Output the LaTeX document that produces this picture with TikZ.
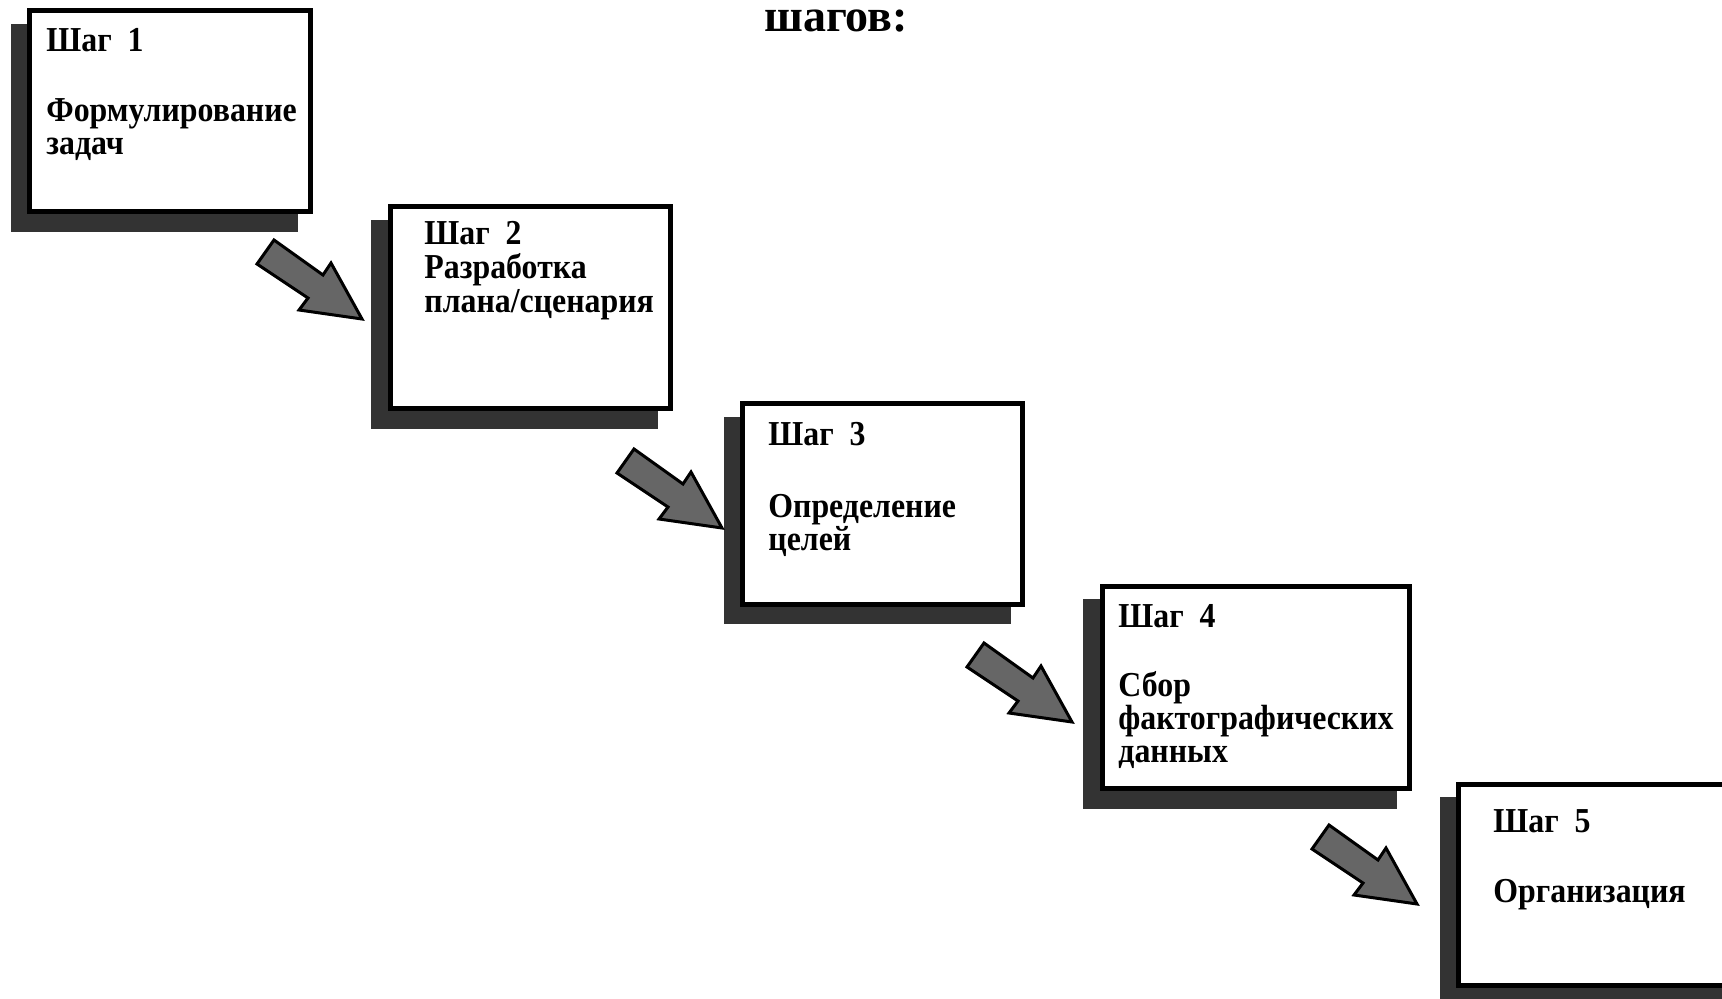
\documentclass[tikz,border=0pt]{standalone}
\usepackage{fontspec}
\setmainfont{Liberation Serif}
\newfontfamily\boxfont[FakeStretch=0.91]{Liberation Serif}
\newfontfamily\titlefont{Liberation Serif}
\usetikzlibrary{fit}
\definecolor{shadowgray}{HTML}{333333}
\definecolor{arrowgray}{HTML}{666666}
\tikzset{
  stepbox/.style={draw=black, line width=2.5pt, fill=white, inner sep=0pt},
  shadowfill/.style={fill=shadowgray},
  lbl/.style={anchor=base west, inner sep=0pt, font=\boxfont\fontsize{17.5pt}{20pt}\selectfont\bfseries},
  ttl/.style={anchor=base, inner sep=0pt, font=\titlefont\fontsize{23pt}{27pt}\selectfont\bfseries},
  blockarrow/.style={fill=arrowgray, draw=black, line width=1.5pt, line join=miter},
}
\begin{document}
\begin{tikzpicture}[x=0.5pt,y=-0.5pt]
\clip (0,0) rectangle (1722,999);
\useasboundingbox (0,0) rectangle (1722,999);
% title (last line)
\node[ttl] (title) at (836,32) {шагов:};
% shadows
\fill[shadowfill] (11,24) rectangle (298,232);
\fill[shadowfill] (371,220) rectangle (658,429);
\fill[shadowfill] (724,417) rectangle (1011,624);
\fill[shadowfill] (1083,599) rectangle (1397,809);
\fill[shadowfill] (1440,797) rectangle (1800,1020);
% boxes
\node[stepbox, fit={(29.5,10.5) (310.5,211.5)}] (s1) {};
\node[stepbox, fit={(390.5,206.5) (670.5,408.5)}] (s2) {};
\node[stepbox, fit={(742.5,403.5) (1022.5,604.5)}] (s3) {};
\node[stepbox, fit={(1102.5,586.5) (1409.5,788.5)}] (s4) {};
\node[stepbox, fit={(1458.5,784.5) (1790,985.5)}] (s5) {};
% texts
\node[lbl] (s1a) at (46,52) {Шаг\ \ 1};
\node[lbl] (s1b) at (46,122) {Формулирование};
\node[lbl] (s1c) at (46,155) {задач};
\node[lbl] (s2a) at (424,245) {Шаг\ \ 2};
\node[lbl] (s2b) at (424,279) {Разработка};
\node[lbl] (s2c) at (424,313) {плана/сценария};
\node[lbl] (s3a) at (768,446) {Шаг\ \ 3};
\node[lbl] (s3b) at (768,517) {Определение};
\node[lbl] (s3c) at (768,550) {целей};
\node[lbl] (s4a) at (1118,627) {Шаг\ \ 4};
\node[lbl] (s4b) at (1118,696) {Сбор};
\node[lbl] (s4c) at (1118,729) {фактографических};
\node[lbl] (s4d) at (1118,762) {данных};
\node[lbl] (s5a) at (1493,832) {Шаг\ \ 5};
\node[lbl] (s5b) at (1493,902) {Организация};
% arrows
\coordinate (a1) at (362,319);
\coordinate (a2) at (722,528);
\coordinate (a3) at (1072,722);
\coordinate (a4) at (1417,904);
\foreach \t in {a1,a2,a3,a4}{
  \draw[blockarrow, shift={(\t)}] (-88,-79) -- (-105,-55) -- (-54,-21) -- (-63,-9) -- (0,0) -- (-31,-56) -- (-39,-44) -- cycle;
}
\end{tikzpicture}
\end{document}
